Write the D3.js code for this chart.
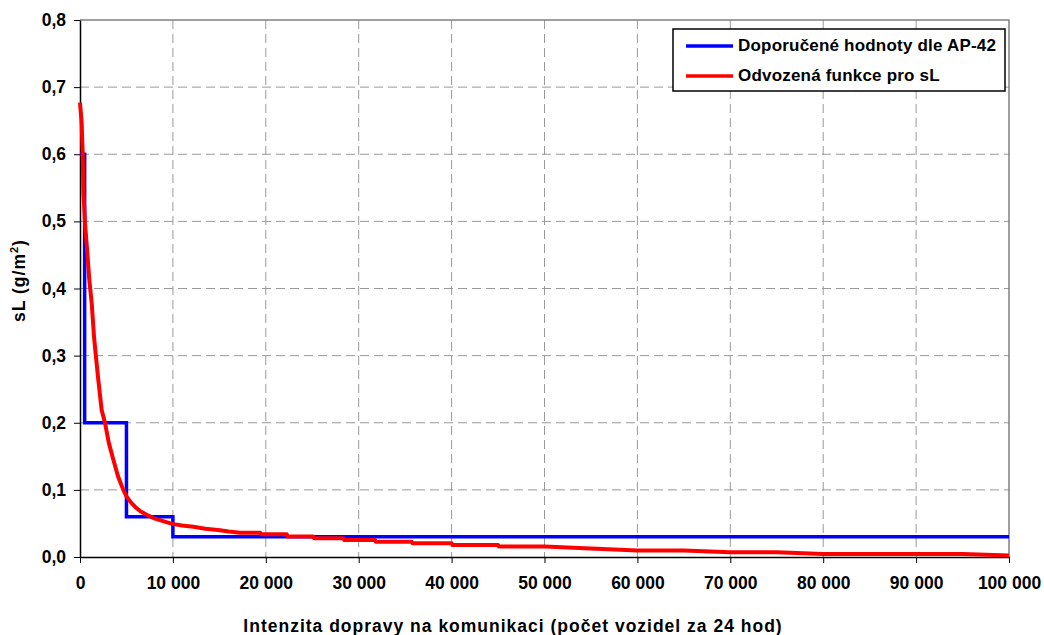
<!DOCTYPE html>
<html>
<head>
<meta charset="utf-8">
<script src="https://cdn.jsdelivr.net/npm/d3@7"></script>
<style>
  body { margin: 0; background: #fff; }
  text { font-family: Arial, "Liberation Sans", sans-serif; font-weight: bold; }
</style>
</head>
<body>
<div id="chart"></div>
<script>
// AP-42 recommended values (step function)
const apX = [0, 500, 500, 5000, 5000, 10000, 10000, 100000];
const apY = [0.6, 0.6, 0.2, 0.2, 0.06, 0.06, 0.03, 0.03];

// derived function for sL
const fnX = [0, 100, 180, 290, 360, 540, 790, 1000, 1260, 1510, 1720, 1970, 2330, 2690, 3100, 3590, 4100, 4660,
    5020, 5500, 5920, 6500, 7180, 7900, 8610, 9300, 10040, 11000, 12200, 13500, 15070, 16000, 17220,
    19400, 19500, 22250, 22350, 25100, 25200, 28350, 28450, 31750, 31850, 35700, 35800, 40000, 40100,
    45000, 45100, 50000, 60000, 65000, 70000, 75000, 80000, 95000, 100000];
const fnY = [0.677, 0.66, 0.646, 0.601, 0.547, 0.497, 0.453, 0.413, 0.378, 0.328, 0.298, 0.264, 0.219, 0.2, 0.17, 0.145, 0.12, 0.1,
    0.09, 0.081, 0.075, 0.068, 0.063, 0.058, 0.055, 0.052, 0.049, 0.047, 0.045, 0.042, 0.04, 0.038, 0.036,
    0.036, 0.034, 0.034, 0.0305, 0.0305, 0.028, 0.028, 0.0253, 0.0253, 0.0229, 0.0229, 0.0204, 0.0204, 0.018,
    0.018, 0.0155, 0.0155, 0.0098, 0.0098, 0.0072, 0.0072, 0.0045, 0.0045, 0.0022];

const xTicks = [0, 10000, 20000, 30000, 40000, 50000, 60000, 70000, 80000, 90000, 100000];
const yTicks = [0, 0.1, 0.2, 0.3, 0.4, 0.5, 0.6, 0.7, 0.8];
const seriesNames = ["Doporučené hodnoty dle AP-42", "Odvozená funkce pro sL"];
const seriesColors = ["#0000ff", "#ff0000"];

const W = 1044, H = 635;
const margin = { top: 20, right: 35, bottom: 78, left: 80 };
const width = W - margin.left - margin.right;
const height = H - margin.top - margin.bottom;

const svg = d3.select("#chart")
    .append("svg")
    .attr("width", W)
    .attr("height", H);

const g = svg.append("g")
    .attr("transform", `translate(${margin.left}, ${margin.top})`);

const xScale = d3.scaleLinear().domain([0, 100000]).range([0, width]);
const yScale = d3.scaleLinear().domain([0, 0.8]).range([height, 0]);

const fmtX = d => d3.format(",")(d).replace(/,/g, " ");
const fmtY = d => d3.format(".1f")(d).replace(".", ",");

// grid
g.append("g")
    .selectAll("line")
    .data(xTicks.slice(1, -1))
    .join("line")
    .attr("x1", d => xScale(d)).attr("x2", d => xScale(d))
    .attr("y1", 0).attr("y2", height)
    .attr("stroke", "#999")
    .attr("stroke-dasharray", "9,5");

g.append("g")
    .selectAll("line")
    .data(yTicks.slice(1, -1))
    .join("line")
    .attr("x1", 0).attr("x2", width)
    .attr("y1", d => yScale(d)).attr("y2", d => yScale(d))
    .attr("stroke", "#999")
    .attr("stroke-dasharray", "9,5");

// top / right frame
g.append("path")
    .attr("d", `M0,0H${width}V${height}`)
    .attr("fill", "none")
    .attr("stroke", "#808080")
    .attr("stroke-width", 1.5);

// axes
const xAxis = g.append("g")
    .attr("transform", `translate(0, ${height})`)
    .call(d3.axisBottom(xScale).tickValues(xTicks).tickFormat(fmtX).tickSize(6).tickSizeOuter(0).tickPadding(14));

const yAxis = g.append("g")
    .call(d3.axisLeft(yScale).tickValues(yTicks).tickFormat(fmtY).tickSize(6).tickSizeOuter(0).tickPadding(8));

[xAxis, yAxis].forEach(a => {
    a.selectAll("path").attr("stroke", "#000").attr("stroke-width", 1.5);
    a.selectAll("line").attr("stroke", "#000");
    a.selectAll("text").style("font-size", "17.5px").style("font-weight", "bold").attr("fill", "#000");
});

// lines
const apData = apX.map((x, i) => ({ x, y: apY[i] }));
const fnData = fnX.map((x, i) => ({ x, y: fnY[i] }));

const line = d3.line()
    .x(d => xScale(d.x))
    .y(d => yScale(d.y));

g.append("path")
    .datum(apData)
    .attr("fill", "none")
    .attr("stroke", seriesColors[0])
    .attr("stroke-width", 3.5)
    .attr("d", line);

g.append("path")
    .datum(fnData)
    .attr("fill", "none")
    .attr("stroke", seriesColors[1])
    .attr("stroke-width", 4)
    .attr("stroke-linejoin", "round")
    .attr("d", line);

// axis titles
svg.append("text")
    .attr("x", 513)
    .attr("y", 632)
    .attr("text-anchor", "middle")
    .style("font-size", "17.5px")
    .style("letter-spacing", "1px")
    .text("Intenzita dopravy na komunikaci (počet vozidel za 24 hod)");

const yTitle = svg.append("text")
    .attr("transform", `translate(25, ${margin.top + height / 2 - 8}) rotate(-90)`)
    .attr("text-anchor", "middle")
    .style("font-size", "17.5px")
    .style("letter-spacing", "1px");
yTitle.append("tspan").text("sL (g/m");
yTitle.append("tspan").attr("dy", -7).style("font-size", "11px").text("2");
yTitle.append("tspan").attr("dy", 7).text(")");

// legend
const legend = svg.append("g")
    .attr("transform", "translate(673, 29)");

legend.append("rect")
    .attr("width", 332)
    .attr("height", 62)
    .attr("fill", "#fff")
    .attr("stroke", "#000")
    .attr("stroke-width", 1.5);

seriesNames.forEach((name, i) => {
    const yy = 17 + i * 30;
    legend.append("line")
        .attr("x1", 13).attr("x2", 60)
        .attr("y1", yy).attr("y2", yy)
        .attr("stroke", seriesColors[i])
        .attr("stroke-width", 3.5);
    legend.append("text")
        .attr("x", 65)
        .attr("y", yy + 5)
        .style("font-size", "17px")
        .style("letter-spacing", "0.2px")
        .text(name);
});
</script>
</body>
</html>
